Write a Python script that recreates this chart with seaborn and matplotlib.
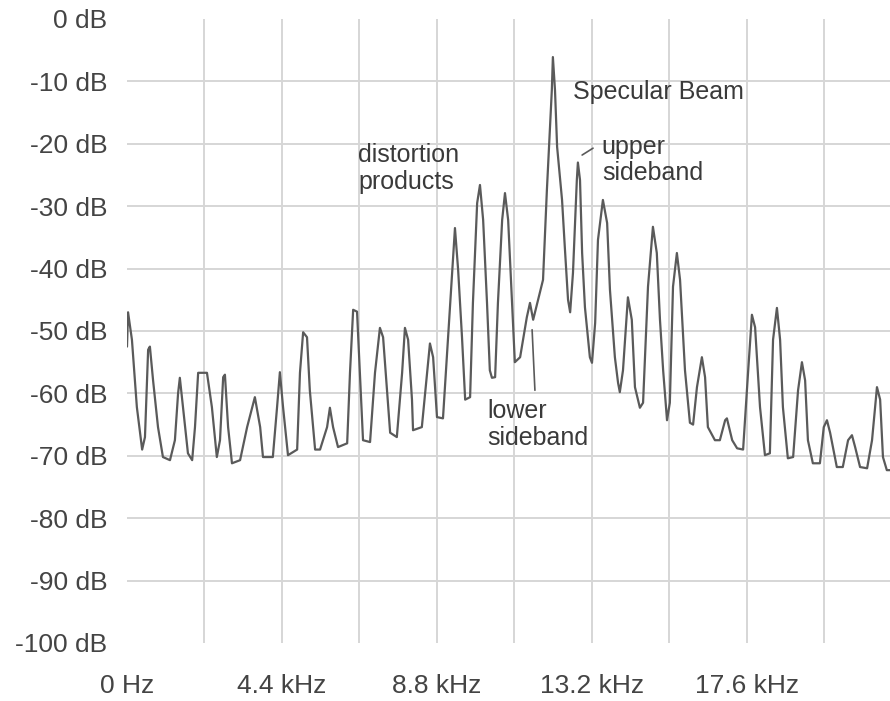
import numpy as np
import pandas as pd
import seaborn as sns
import matplotlib.pyplot as plt
from matplotlib.ticker import FixedLocator

# spectrum: frequency in kHz, level in dB
freq_khz = [0.00, 0.03, 0.14, 0.28, 0.43, 0.51, 0.60, 0.65, 0.74, 0.88, 1.02, 1.22,
            1.36, 1.45, 1.50, 1.59, 1.73, 1.85, 1.93, 2.02, 2.27, 2.41, 2.55, 2.64,
            2.73, 2.78, 2.87, 2.98, 3.21, 3.41, 3.63, 3.78, 3.86, 4.14, 4.26, 4.34,
            4.43, 4.57, 4.83, 4.91, 5.00, 5.11, 5.19, 5.34, 5.48, 5.68, 5.76, 5.85,
            5.99, 6.25, 6.33, 6.42, 6.53, 6.61, 6.70, 6.90, 7.04, 7.18, 7.27, 7.38,
            7.47, 7.66, 7.81, 7.89, 7.98, 8.09, 8.12, 8.37, 8.52, 8.60, 8.69, 8.80,
            8.97, 9.11, 9.23, 9.31, 9.40, 9.51, 9.60, 9.74, 9.82, 9.94, 10.02, 10.11,
            10.22, 10.30, 10.36, 10.45, 10.53, 10.65, 10.73, 10.82, 10.93, 11.01, 11.16,
            11.35, 11.44, 11.53, 11.67, 11.81, 11.92, 11.98, 12.06, 12.09, 12.15, 12.21,
            12.35, 12.43, 12.52, 12.58, 12.66, 12.77, 12.80, 12.86, 12.92, 13.00, 13.14,
            13.20, 13.29, 13.37, 13.51, 13.63, 13.71, 13.85, 13.94, 13.99, 14.08, 14.22,
            14.33, 14.42, 14.56, 14.65, 14.79, 14.93, 15.04, 15.13, 15.22, 15.33, 15.41,
            15.50, 15.61, 15.70, 15.84, 15.98, 16.07, 16.18, 16.32, 16.41, 16.49, 16.69,
            16.83, 16.98, 17.03, 17.18, 17.32, 17.49, 17.63, 17.74, 17.83, 17.97, 18.11,
            18.25, 18.34, 18.45, 18.54, 18.62, 18.76, 18.91, 19.05, 19.16, 19.25, 19.33,
            19.47, 19.67, 19.78, 19.87, 19.96, 20.15, 20.32, 20.47, 20.58, 20.67, 20.81,
            21.01, 21.15, 21.29, 21.38, 21.46, 21.57, 21.66]
level_db = [-52.5, -47.0, -51.4, -62.2, -69.0, -67.0, -53.0, -52.5, -57.9, -65.4, -70.2, -70.7,
            -67.5, -60.0, -57.5, -62.2, -69.6, -70.7, -65.4, -56.7, -56.7, -62.2, -70.2, -67.5,
            -57.4, -57.0, -65.4, -71.2, -70.7, -65.4, -60.6, -65.4, -70.2, -70.2, -62.2, -56.6,
            -62.2, -69.9, -69.0, -56.7, -50.2, -51.0, -59.5, -69.0, -69.0, -65.4, -62.3, -65.4,
            -68.6, -68.0, -56.7, -46.6, -46.9, -56.7, -67.5, -67.8, -56.7, -49.5, -51.0, -59.5,
            -66.3, -67.0, -56.7, -49.5, -51.4, -61.0, -65.9, -65.4, -56.7, -52.0, -54.2, -63.8,
            -64.0, -51.4, -40.7, -33.5, -40.2, -51.0, -61.0, -60.6, -45.5, -29.5, -26.6, -32.2,
            -45.5, -56.3, -57.5, -57.4, -45.5, -32.2, -27.9, -32.2, -45.5, -55.0, -54.2,
            -47.8, -45.5, -48.2, -45.0, -41.8, -27.4, -20.5, -11.4, -6.1, -11.4, -20.5,
            -29.0, -36.7, -45.0, -47.0, -40.7, -25.8, -23.0, -25.8, -37.5, -46.2, -54.2,
            -55.1, -48.7, -35.4, -29.0, -32.7, -43.4, -54.2, -58.3, -59.8, -56.3, -44.6,
            -48.2, -59.0, -62.3, -61.5, -42.9, -33.3, -37.5, -48.2, -56.3, -64.3, -61.5,
            -42.9, -37.5, -41.8, -56.3, -64.7, -65.0, -59.0, -54.2, -57.4, -65.4, -67.5,
            -67.5, -64.3, -64.0, -67.5, -68.8, -69.0, -56.7, -47.4, -49.4, -62.2, -69.9,
            -69.6, -51.4, -46.3, -51.4, -62.2, -70.4, -70.2, -59.5, -55.0, -57.9, -67.5,
            -71.2, -71.2, -65.4, -64.3, -66.3, -71.8, -71.8, -67.5, -66.7, -68.6, -71.8,
            -72.0, -67.5, -59.0, -61.0, -70.2, -72.3, -72.3]

x_ticks = [0, 4.4, 8.8, 13.2, 17.6]
x_labels = ["0 Hz", "4.4 kHz", "8.8 kHz", "13.2 kHz", "17.6 kHz"]
y_ticks = [0, -10, -20, -30, -40, -50, -60, -70, -80, -90, -100]

df = pd.DataFrame({"freq": freq_khz, "db": level_db})

sns.set_style("white")
plt.rcParams["font.family"] = ["Liberation Sans", "DejaVu Sans"]

fig = plt.figure(figsize=(8.9, 7.01), dpi=100)
ax = fig.add_axes([127 / 890, 58 / 701, 763 / 890, 624 / 701])

ax.set_xlim(0, 21.66)
ax.set_ylim(-100, 0)
ax.xaxis.set_major_locator(FixedLocator(x_ticks))
ax.xaxis.set_minor_locator(FixedLocator([2.2 * k for k in range(1, 10)]))
ax.xaxis.remove_overlapping_locs = False
ax.set_xticklabels(x_labels)
ax.set_yticks(y_ticks)
ax.set_yticklabels([f"{v} dB" for v in y_ticks])
ax.grid(True, which="minor", axis="x", color="#d6d6d6", linewidth=1.4)
ax.grid(True, which="major", axis="y", color="#d6d6d6", linewidth=1.4)
# no gridline on the top and bottom edge
gl = ax.yaxis.get_gridlines()
gl[0].set_visible(False)
gl[-1].set_visible(False)
ax.set_axisbelow(True)

sns.lineplot(data=df, x="freq", y="db", ax=ax, color="#5a5a5a", linewidth=1.6)

ax.set_xlabel("")
ax.set_ylabel("")
for s in ax.spines.values():
    s.set_visible(False)
ax.tick_params(axis="both", which="both", length=0, labelsize=19, labelcolor="#444444")
ax.tick_params(axis="y", pad=14)
ax.tick_params(axis="x", pad=22)

# annotations
txt = dict(fontsize=18, color="#3a3a3a")
ax.text(12.66, -11.7, "Specular Beam", va="center", ha="left", **txt)
ax.text(6.56, -24.0, "distortion\nproducts", va="center", ha="left", linespacing=1.15, **txt)
ax.text(13.48, -22.6, "upper\nsideband", va="center", ha="left", linespacing=1.15, **txt)
ax.text(10.22, -65.0, "lower\nsideband", va="center", ha="left", linespacing=1.15, **txt)
ax.plot([12.92, 13.23], [-21.8, -20.7], color="#5a5a5a", linewidth=1.2)
ax.plot([11.50, 11.58], [-49.8, -59.5], color="#5a5a5a", linewidth=1.2)

fig.savefig("out.png", dpi=100)
